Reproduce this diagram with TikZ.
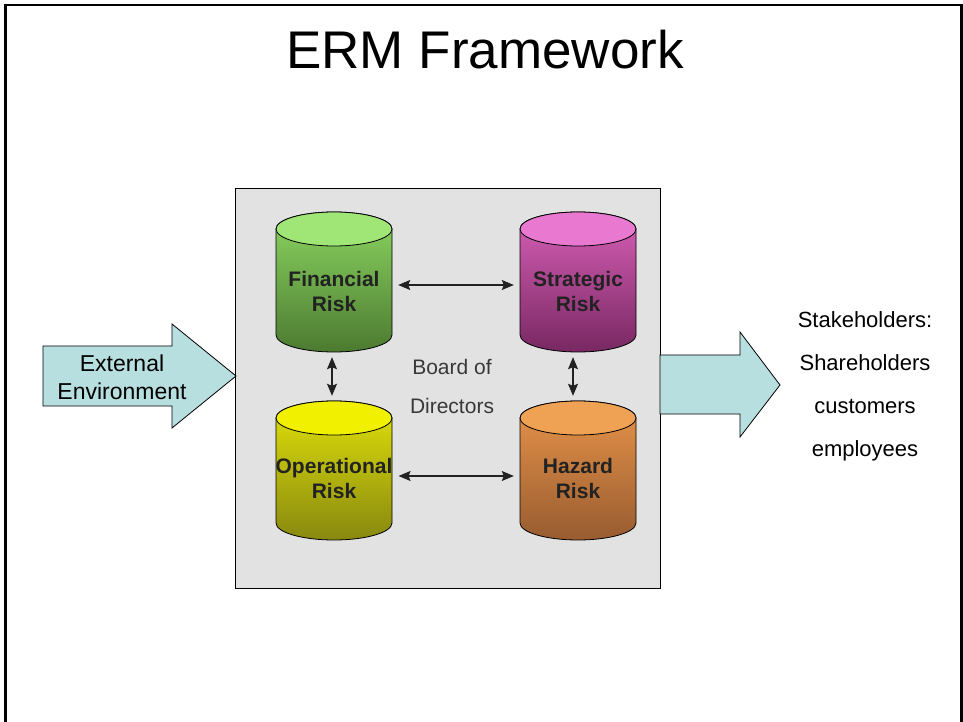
\documentclass[tikz,border=0pt]{standalone}
\usepackage{fontspec}
\setmainfont{Liberation Sans}
\usetikzlibrary{arrows.meta}
\definecolor{panelgray}{RGB}{226,226,226}
\definecolor{arrowcyan}{RGB}{184,223,224}
\definecolor{txtdark}{RGB}{34,34,34}
\definecolor{bodgray}{RGB}{56,56,56}
\definecolor{finTop}{RGB}{160,230,118}
\definecolor{finA}{RGB}{140,214,98}
\definecolor{finB}{RGB}{76,122,48}
\definecolor{strTop}{RGB}{232,120,208}
\definecolor{strA}{RGB}{216,96,184}
\definecolor{strB}{RGB}{120,40,98}
\definecolor{opTop}{RGB}{240,240,0}
\definecolor{opA}{RGB}{226,226,10}
\definecolor{opB}{RGB}{136,136,16}
\definecolor{hazTop}{RGB}{240,162,84}
\definecolor{hazA}{RGB}{232,148,74}
\definecolor{hazB}{RGB}{152,92,48}
\newcommand\ermcyl[6]{%
  \shade[top color=#4,bottom color=#5,draw=black,line width=0.8pt]
    (#1-58,#2) -- (#1-58,#3)
    arc[start angle=180,end angle=360,x radius=58pt,y radius=17pt]
    -- (#1+58,#2)
    arc[start angle=0,end angle=180,x radius=58pt,y radius=17pt] -- cycle;
  \draw[fill=#6,line width=0.8pt] (#1,#2) ellipse[x radius=58pt,y radius=17pt];
}
\tikzset{
  cyltxt/.style={minimum width=116pt,inner sep=0pt,align=center,text=txtdark,
    font=\fontsize{21}{25}\selectfont\bfseries},
  link/.style={{Stealth[length=12pt,width=10pt,inset=2pt]}-{Stealth[length=12pt,width=10pt,inset=2pt]},
    line width=1.1pt,draw=txtdark},
  bigarrow/.style={fill=arrowcyan,draw=black,line width=0.8pt},
  plaintxt/.style={align=center,text=black,inner sep=0pt}
}
\begin{document}
\begin{tikzpicture}[x=1pt,y=1pt]
\useasboundingbox (0,0) rectangle (963,721);
\fill[white] (0,0) rectangle (963,721);
\draw[line width=2.5pt] (5.5,-20) -- (5.5,716) -- (961.5,716) -- (961.5,-20);

\node[plaintxt,font=\fontsize{53}{60}\selectfont] (title) at (485,671) {ERM Framework};

% panel
\node[fill=panelgray,draw=black,line width=0.8pt,minimum width=425pt,minimum height=400pt,inner sep=0pt] (board) at (447.5,333) {};

% cylinders
\ermcyl{334}{492}{386}{finA}{finB}{finTop}
\ermcyl{578}{492}{386}{strA}{strB}{strTop}
\ermcyl{334}{303}{198}{opA}{opB}{opTop}
\ermcyl{578}{303}{198}{hazA}{hazB}{hazTop}

\node[cyltxt,minimum height=121pt] (fin) at (334,429.5) {Financial\\Risk};
\node[cyltxt,minimum height=121pt] (str) at (578,429.5) {Strategic\\Risk};
\node[cyltxt,minimum height=152pt] (op) at (334,243) {Operational\\Risk};
\node[cyltxt,minimum height=152pt] (haz) at (578,243) {Hazard\\Risk};

\draw[link,shorten <=6pt,shorten >=6pt] ([yshift=6.5pt]fin.east) -- ([yshift=6.5pt]str.west);
\draw[link,shorten <=6pt,shorten >=6pt] ([yshift=2pt]op.east) -- ([yshift=2pt]haz.west);
\draw[link,shorten <=5pt,shorten >=6pt] ([xshift=-2pt]fin.south) -- ([xshift=-2pt]op.north);
\draw[link,shorten <=5pt,shorten >=6pt] ([xshift=-5pt]str.south) -- ([xshift=-5pt]haz.north);

\node[plaintxt,text=bodgray,font=\fontsize{21}{39}\selectfont] (bod) at (452,334.5) {Board of\\Directors};

% external environment arrow
\draw[bigarrow] (43,375) -- (172,375) -- (172,397) -- (236,345) -- (172,293) -- (172,315) -- (43,315) -- cycle;
\node[plaintxt,font=\fontsize{23}{28}\selectfont] (ext) at (122,344) {External\\Environment};

% stakeholders arrow
\draw[bigarrow] (660,366) -- (740,366) -- (740,389) -- (780,336) -- (740,284) -- (740,307) -- (660,307) -- cycle;
\node[plaintxt,font=\fontsize{22}{43}\selectfont] (stake) at (865,334.5) {Stakeholders:\\Shareholders\\customers\\employees};
\end{tikzpicture}
\end{document}
